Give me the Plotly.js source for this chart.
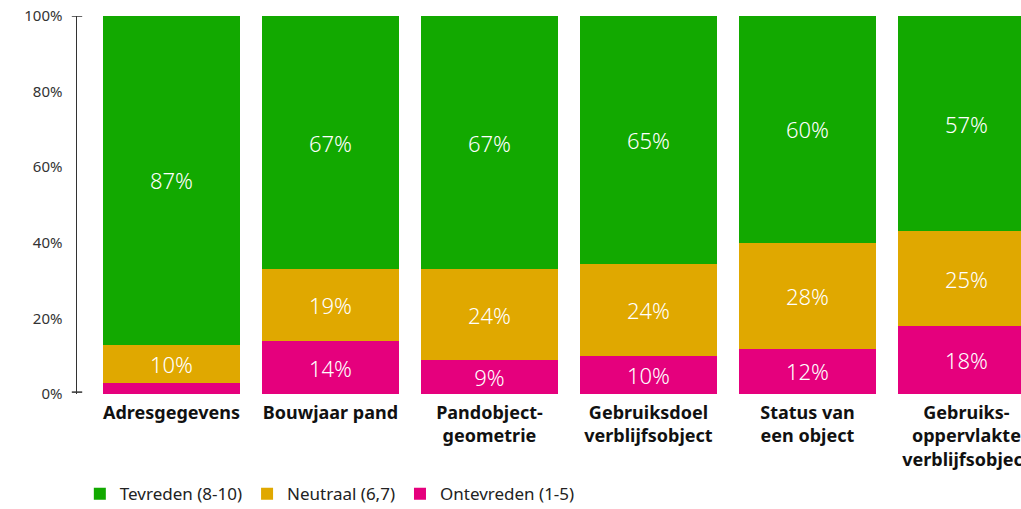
<!DOCTYPE html>
<html>
<head>
<meta charset="utf-8">
<script src="https://cdn.plot.ly/plotly-3.0.1.min.js"></script>
<style>html,body{margin:0;padding:0;background:#fff}#chart{width:1021px;height:509px}</style>
</head>
<body>
<div id="chart"></div>
<script>
const categories = [
  "Adresgegevens",
  "Bouwjaar pand",
  "Pandobject-<br>geometrie",
  "Gebruiksdoel<br>verblijfsobject",
  "Status van<br>een object",
  "Gebruiks-<br>oppervlakte<br>verblijfsobject"
];
const ontevreden = [3, 14, 9, 10, 12, 18];
const neutraal   = [10, 19, 24, 24, 28, 25];
const tevreden   = [87, 67, 67, 65, 60, 57];
const seriesNames = ["Ontevreden (1-5)", "Neutraal (6,7)", "Tevreden (8-10)"];
const yTickVals = [0, 20, 40, 60, 80, 100];

const colors = ["#E5007D", "#E0A800", "#12A900"];
const FONT = "'Noto Sans', 'Open Sans', sans-serif";

function mk(vals, name, color, rank) {
  return {
    type: "bar", x: categories, y: vals, name: name,
    marker: {color: color, line: {width: 0}},
    text: vals.map(v => v >= 5 ? v + "%" : ""), textposition: "inside", textangle: 0,
    insidetextanchor: "middle", constraintext: "none",
    textfont: {color: "#ffffff", size: 22, family: FONT, weight: 300},
    hoverinfo: "skip", legendrank: rank
  };
}
const data = [
  mk(ontevreden, seriesNames[0], colors[0], 3),
  mk(neutraal, seriesNames[1], colors[1], 2),
  mk(tevreden, seriesNames[2], colors[2], 1)
];

const layout = {
  width: 1021, height: 509,
  margin: {l: 77, r: 0, t: 16, b: 115, autoexpand: false},
  barmode: "stack", barnorm: "percent", bargap: 0.138,
  paper_bgcolor: "#ffffff", plot_bgcolor: "#ffffff",
  font: {family: FONT, color: "#222"},
  xaxis: {
    range: [-0.594, 5.343], showgrid: false, zeroline: false, showline: false,
    ticks: "", tickfont: {size: 18, color: "#111", family: FONT, weight: "bold"},
    ticklabelstandoff: 6, fixedrange: true, automargin: false
  },
  yaxis: {
    range: [0, 100], tickvals: yTickVals, ticktext: yTickVals.map(v => v + "%"),
    showgrid: false, zeroline: false, showline: true, linecolor: "#333", linewidth: 1.5,
    ticks: "", tickfont: {size: 15, color: "#333", family: FONT},
    ticklabelstandoff: 10, fixedrange: true, automargin: false
  },
  showlegend: true,
  legend: {
    orientation: "h", x: 0.003, xanchor: "left", y: -0.265, yanchor: "middle",
    font: {size: 17, color: "#222", family: FONT}, traceorder: "normal",
    itemwidth: 30, tracegroupgap: 0
  },
  shapes: [
    {type: "line", xref: "paper", yref: "y", x0: -0.0055, x1: 0.0055, y0: 100, y1: 100, line: {color: "#333", width: 1.5}},
    {type: "line", xref: "paper", yref: "y", x0: -0.0055, x1: 0.0055, y0: 0.5, y1: 0.5, line: {color: "#333", width: 1.5}}
  ]
};

Plotly.newPlot("chart", data, layout, {displayModeBar: false, staticPlot: true});
</script>
</body>
</html>
